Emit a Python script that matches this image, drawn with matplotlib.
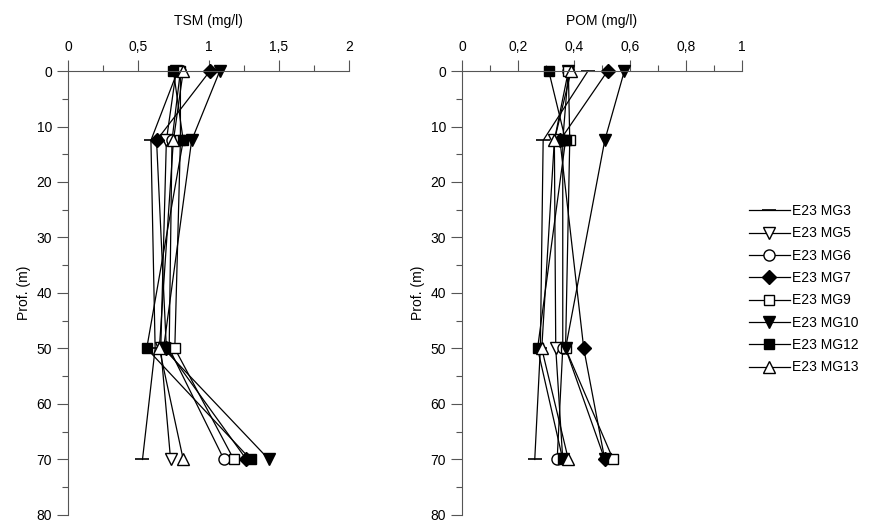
import matplotlib.pyplot as plt
from matplotlib.ticker import MultipleLocator, FixedLocator, FixedFormatter

plt.rcParams['font.family'] = ['Liberation Sans', 'DejaVu Sans']
plt.rcParams['font.size'] = 10

# sampling depths (m)
depth = [0, 12.5, 50, 70]

stations = ['E23 MG3', 'E23 MG5', 'E23 MG6', 'E23 MG7',
            'E23 MG9', 'E23 MG10', 'E23 MG12', 'E23 MG13']

# TSM (mg/l) per station, at depths above
tsm_mg3 = [0.78, 0.59, 0.62, 0.53]
tsm_mg5 = [0.77, 0.70, 0.66, 0.73]
tsm_mg6 = [0.80, 0.74, 0.72, 1.11]
tsm_mg7 = [1.01, 0.63, 0.70, 1.27]
tsm_mg9 = [0.80, 0.80, 0.76, 1.18]
tsm_mg10 = [1.08, 0.88, 0.68, 1.43]
tsm_mg12 = [0.75, 0.82, 0.56, 1.30]
tsm_mg13 = [0.82, 0.75, 0.65, 0.82]

# POM (mg/l)
pom_mg3 = [0.45, 0.29, 0.28, 0.26]
pom_mg5 = [0.38, 0.33, 0.335, 0.36]
pom_mg6 = [0.38, 0.36, 0.36, 0.34]
pom_mg7 = [0.52, 0.35, 0.435, 0.51]
pom_mg9 = [0.38, 0.385, 0.37, 0.54]
pom_mg10 = [0.58, 0.51, 0.37, 0.51]
pom_mg12 = [0.31, 0.37, 0.27, 0.36]
pom_mg13 = [0.39, 0.33, 0.285, 0.38]

tsm = [tsm_mg3, tsm_mg5, tsm_mg6, tsm_mg7, tsm_mg9, tsm_mg10, tsm_mg12, tsm_mg13]
pom = [pom_mg3, pom_mg5, pom_mg6, pom_mg7, pom_mg9, pom_mg10, pom_mg12, pom_mg13]

tsm_ticks = [0, 0.5, 1, 1.5, 2]
tsm_labels = ['0', '0,5', '1', '1,5', '2']
pom_ticks = [0, 0.2, 0.4, 0.6, 0.8, 1]
pom_labels = ['0', '0,2', '0,4', '0,6', '0,8', '1']
depth_ticks = [0, 10, 20, 30, 40, 50, 60, 70, 80]

# (marker, facecolor, size)
styles = [('_', 'black', 10), ('v', 'white', 8), ('o', 'white', 8),
          ('D', 'black', 7), ('s', 'white', 7), ('v', 'black', 9),
          ('s', 'black', 7), ('^', 'white', 9)]

fig = plt.figure(figsize=(8.69, 5.26), dpi=100)
ax1 = fig.add_axes([0.0783, 0.021, 0.3233, 0.844])
ax2 = fig.add_axes([0.5316, 0.021, 0.3222, 0.844])


def setup(ax, data, ticks, labels, xmax, minor, title):
    for vals, name, (m, fc, ms) in zip(data, stations, styles):
        ax.plot(vals, depth, color='black', lw=0.9, marker=m, markersize=ms,
                markerfacecolor=fc, markeredgecolor='black',
                markeredgewidth=1.0 if m != '_' else 1.2, label=name,
                clip_on=False)
    ax.set_xlim(0, xmax)
    ax.set_ylim(80, 0)
    ax.xaxis.set_ticks_position('top')
    ax.xaxis.set_label_position('top')
    ax.xaxis.set_major_locator(FixedLocator(ticks))
    ax.xaxis.set_major_formatter(FixedFormatter(labels))
    ax.xaxis.set_minor_locator(MultipleLocator(minor))
    ax.yaxis.set_major_locator(FixedLocator(depth_ticks))
    ax.yaxis.set_minor_locator(MultipleLocator(5))
    ax.tick_params(which='major', length=8, width=0.8, color='#555555')
    ax.tick_params(which='minor', length=4, width=0.8, color='#555555')
    ax.tick_params(axis='x', pad=4)
    ax.spines['right'].set_visible(False)
    ax.spines['bottom'].set_visible(False)
    ax.spines['left'].set_color('#555555')
    ax.spines['top'].set_color('#555555')
    ax.set_xlabel(title, labelpad=11)
    ax.set_ylabel('Prof. (m)')


setup(ax1, tsm, tsm_ticks, tsm_labels, 2, 0.25, 'TSM (mg/l)')
setup(ax2, pom, pom_ticks, pom_labels, 1, 0.1, 'POM (mg/l)')

handles, names = ax1.get_legend_handles_labels()
fig.legend(handles, names, loc='center left', bbox_to_anchor=(0.855, 0.45),
           frameon=False, handlelength=3.0, handletextpad=0.1,
           labelspacing=0.6, borderaxespad=0)

fig.savefig('out.png', dpi=100)
